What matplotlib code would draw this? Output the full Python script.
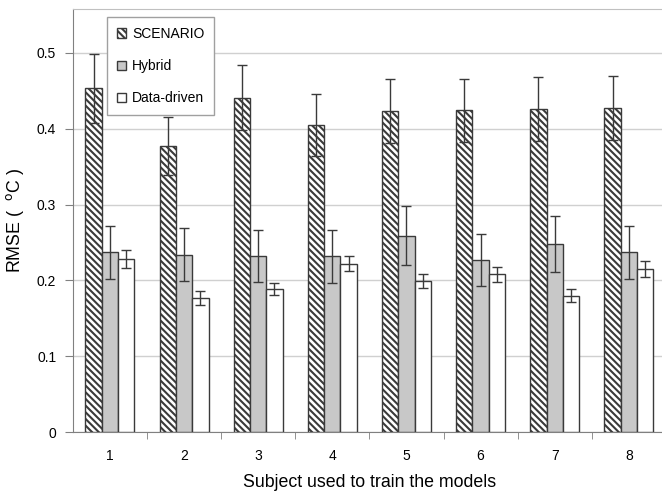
import numpy as np
import matplotlib
matplotlib.use('Agg')
import matplotlib.pyplot as plt

plt.rcParams['font.family'] = ['Liberation Sans', 'DejaVu Sans']
plt.rcParams['hatch.linewidth'] = 1.5
plt.rcParams['hatch.color'] = 'black'

subjects = ['1', '2', '3', '4', '5', '6', '7', '8']
scenario = [0.453, 0.377, 0.441, 0.405, 0.423, 0.424, 0.426, 0.427]
scenario_err = [0.045, 0.038, 0.043, 0.041, 0.042, 0.042, 0.042, 0.042]
hybrid = [0.237, 0.234, 0.232, 0.232, 0.259, 0.227, 0.248, 0.237]
hybrid_err = [0.035, 0.035, 0.034, 0.035, 0.039, 0.034, 0.037, 0.035]
datadriven = [0.228, 0.177, 0.189, 0.222, 0.199, 0.208, 0.180, 0.215]
datadriven_err = [0.012, 0.009, 0.008, 0.010, 0.009, 0.010, 0.009, 0.010]

x = np.arange(1, len(subjects) + 1)
w = 0.22
edge = '#3a3a3a'
err_kw = dict(ecolor='#3a3a3a', elinewidth=1, capsize=3.5, capthick=1)

fig = plt.figure(figsize=(6.62, 4.91), dpi=100)
ax = fig.add_axes([0.110, 0.120, 0.896, 0.862])

ax.bar(x - w, scenario, w, yerr=scenario_err, color='white', edgecolor=edge,
       linewidth=1, hatch='\\' * 5, error_kw=err_kw, label='SCENARIO', zorder=3)
ax.bar(x, hybrid, w, yerr=hybrid_err, color='#c8c8c8', edgecolor=edge,
       linewidth=1, error_kw=err_kw, label='Hybrid', zorder=3)
ax.bar(x + w, datadriven, w, yerr=datadriven_err, color='white', edgecolor=edge,
       linewidth=1, error_kw=err_kw, label='Data-driven', zorder=3)

ax.set_xlim(0.5, 8.5)
ax.set_ylim(0, 0.558)
ax.set_yticks([0, 0.1, 0.2, 0.3, 0.4, 0.5])
ax.set_yticklabels(['0', '0.1', '0.2', '0.3', '0.4', '0.5'])
ax.set_xticks(x)
ax.set_xticklabels(subjects)
ax.set_xticks(np.arange(1.5, 8.5, 1), minor=True)
ax.tick_params(axis='x', which='major', length=0, pad=12, labelsize=10)
ax.tick_params(axis='x', which='minor', length=5, color='#808080', direction='out')
ax.tick_params(axis='y', length=6, color='#808080', labelsize=10, pad=6)
ax.grid(axis='y', color='#d0d0d0', linewidth=1, zorder=0)

for s in ['left', 'bottom']:
    ax.spines[s].set_color('#808080')
ax.spines['top'].set_color('#c0c0c0')
ax.spines['right'].set_visible(False)

ax.set_ylabel('RMSE (  $^{\\rm o}$C )', fontsize=12.8, labelpad=8)
ax.set_xlabel('Subject used to train the models', fontsize=12.8, labelpad=8)

leg = ax.legend(loc='upper left', bbox_to_anchor=(0.046, 0.996), fontsize=10,
                fancybox=False, edgecolor='#a0a0a0', framealpha=1,
                handlelength=0.7, handleheight=0.7, handletextpad=0.4,
                labelspacing=1.3, borderpad=0.7)
leg.get_frame().set_linewidth(1)
leg.set_zorder(5)

fig.savefig('out.png', dpi=100)
